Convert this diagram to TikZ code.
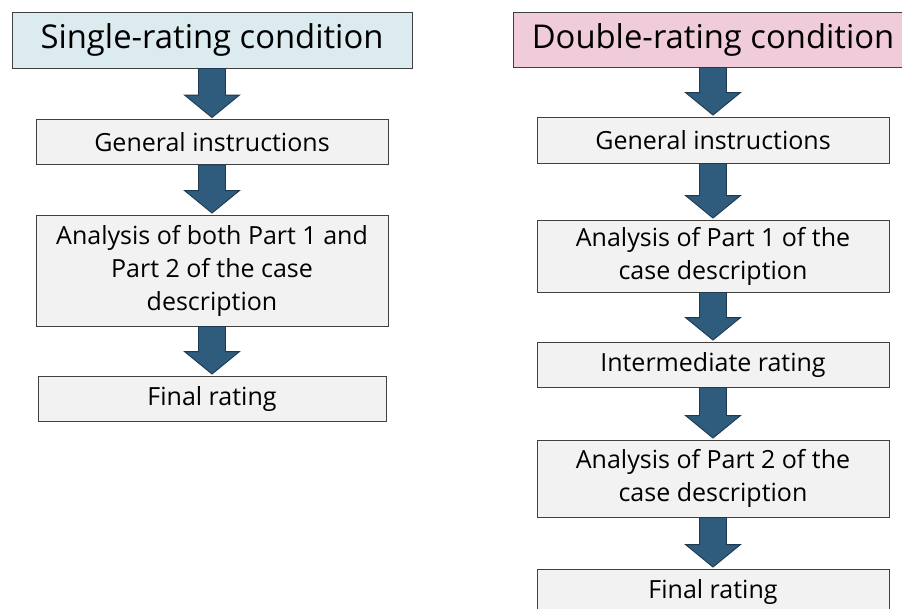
\documentclass[tikz,border=0pt]{standalone}
\usepackage{fontspec}
\setmainfont{Open Sans}
\usetikzlibrary{calc}
\definecolor{titleblue}{HTML}{DCEBEF}
\definecolor{titlepink}{HTML}{F0CCDA}
\definecolor{boxgray}{HTML}{F2F2F2}
\definecolor{boxline}{HTML}{404040}
\definecolor{arrowfill}{HTML}{2F5B7C}
\definecolor{arrowline}{HTML}{1E3A52}
\tikzset{
  base/.style={draw=boxline, line width=0.9pt, inner sep=0pt, align=center, text=black},
  titlebox/.style={base, font=\fontsize{32.8}{36}\selectfont},
  stepbox/.style={base, fill=boxgray, minimum width=352pt, font=\fontsize{25}{33}\selectfont},
  blockarr/.style={fill=arrowfill, draw=arrowline, line width=0.9pt, line join=miter},
}
\newcommand\flowarrow[2]{%
  \draw[blockarr] let \p1=(#1.south), \p2=(#2.north) in
    (\x1-13.5pt,\y1) -- (\x1+13.5pt,\y1) -- (\x1+13.5pt,\y2+24pt) -- (\x1+27.5pt,\y2+24pt)
    -- (\x1,\y2+1.5pt) -- (\x1-27.5pt,\y2+24pt) -- (\x1-13.5pt,\y2+24pt) -- cycle;}
\begin{document}
\begin{tikzpicture}[x=1pt,y=-1pt]
\useasboundingbox (0,0) rectangle (902,608);
\fill[white] (0,0) rectangle (902,608);
% left column
\node[titlebox, fill=titleblue, minimum width=400pt, minimum height=56pt] (t1) at (212,40) {Single-rating condition};
\node[stepbox, minimum height=45pt] (g1) at (212,142) {General instructions};
\node[stepbox, minimum height=111pt] (a1) at (212,270.5) {Analysis of both Part 1 and\\Part 2 of the case\\description};
\node[stepbox, minimum width=348pt, minimum height=45pt] (f1) at (212,398.5) {Final rating};
\flowarrow{t1}{g1}
\flowarrow{g1}{a1}
\flowarrow{a1}{f1}
% right column
\node[titlebox, fill=titlepink, minimum width=400pt, minimum height=55pt] (t2) at (713,39.5) {Double-rating condition};
\node[stepbox, minimum height=46pt] (g2) at (713,140) {General instructions};
\node[stepbox, minimum height=72pt] (p1) at (713,256) {Analysis of Part 1 of the\\case description};
\node[stepbox, minimum height=45pt] (i2) at (713,364.5) {Intermediate rating};
\node[stepbox, minimum height=77pt] (p2) at (713,478.5) {Analysis of Part 2 of the\\case description};
\node[stepbox, minimum height=45pt] (f2) at (713,591.5) {Final rating};
\flowarrow{t2}{g2}
\flowarrow{g2}{p1}
\flowarrow{p1}{i2}
\flowarrow{i2}{p2}
\flowarrow{p2}{f2}
\end{tikzpicture}
\end{document}
